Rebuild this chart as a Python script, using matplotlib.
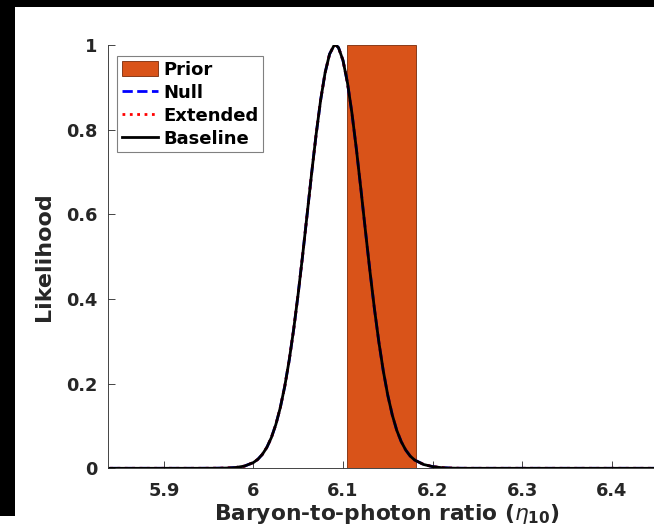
"""Likelihood of the baryon-to-photon ratio with the prior band."""

import matplotlib

matplotlib.use("Agg")
import matplotlib.pyplot as plt
from matplotlib.patches import Rectangle

plt.rcParams["font.family"] = ["DejaVu Sans"]
plt.rcParams["mathtext.fontset"] = "dejavusans"

# --- data ------------------------------------------------------------------
eta = [5.84, 5.94, 5.95, 5.96, 5.97, 5.98, 5.99, 6.00, 6.005, 6.01, 6.015,
       6.02, 6.025, 6.03, 6.035, 6.04, 6.045, 6.05, 6.055, 6.06, 6.065,
       6.07, 6.075, 6.08, 6.085, 6.09, 6.092, 6.095, 6.10, 6.105, 6.11,
       6.115, 6.12, 6.125, 6.13, 6.135, 6.14, 6.145, 6.15, 6.155, 6.16,
       6.165, 6.17, 6.175, 6.18, 6.19, 6.20, 6.21, 6.22, 6.23, 6.24, 6.46]
baseline = [0.0, 0.0, 0.0001, 0.0002, 0.0006, 0.0018, 0.0052, 0.0136,
            0.0214, 0.0330, 0.0495, 0.0724, 0.1032, 0.1433, 0.1940, 0.2561,
            0.3294, 0.4129, 0.5044, 0.6007, 0.6972, 0.7887, 0.8695, 0.9343,
            0.9785, 0.9988, 1.0, 0.9937, 0.9636, 0.9106, 0.8388, 0.7530,
            0.6589, 0.5619, 0.4671, 0.3784, 0.2987, 0.2299, 0.1724, 0.1261,
            0.0898, 0.0630, 0.0432, 0.0290, 0.0195, 0.0090, 0.0040, 0.0015,
            0.0005, 0.0001, 0.0, 0.0]
# Null and Extended sit exactly under the Baseline curve
null = list(baseline)
extended = list(baseline)

prior_lo = 6.104
prior_hi = 6.1815
prior_height = 1.0

x_ticks = [5.9, 6.0, 6.1, 6.2, 6.3, 6.4]
x_tick_labels = ["5.9", "6", "6.1", "6.2", "6.3", "6.4"]
y_ticks = [0, 0.2, 0.4, 0.6, 0.8, 1.0]
y_tick_labels = ["0", "0.2", "0.4", "0.6", "0.8", "1"]

TICK_COLOR = "#262626"
PRIOR_COLOR = "#D95319"

W, H = 654, 531
fig = plt.figure(figsize=(W / 100, H / 100), dpi=100)
fig.patch.set_facecolor("white")

# black strips along the top and left edges of the capture
fig.add_artist(Rectangle((0, 1 - 7 / H), 1, 7 / H, transform=fig.transFigure,
                         facecolor="black", edgecolor="none"))
fig.add_artist(Rectangle((0, (H - 516) / H), 15 / W, 516 / H,
                         transform=fig.transFigure,
                         facecolor="black", edgecolor="none"))

left, bottom, top = 107.5 / W, (H - 468.3) / H, (H - 45) / H
ax = fig.add_axes([left, bottom, 667 / W - left, top - bottom])

prior = ax.bar(prior_lo, prior_height, width=prior_hi - prior_lo,
               align="edge", color=PRIOR_COLOR, edgecolor="#7a2a08",
               linewidth=0.6, label="Prior", zorder=1)
(l_null,) = ax.plot(eta, null, color="blue", linestyle="--", linewidth=2,
                    label="Null", zorder=2)
(l_ext,) = ax.plot(eta, extended, color="red", linestyle=":", linewidth=2,
                   label="Extended", zorder=3)
(l_base,) = ax.plot(eta, baseline, color="black", linewidth=2,
                    label="Baseline", zorder=4)

ax.set_xlim(5.8371, 6.4617)
ax.set_ylim(0, 1)
ax.set_xticks(x_ticks)
ax.set_xticklabels(x_tick_labels)
ax.set_yticks(y_ticks)
ax.set_yticklabels(y_tick_labels)

for side in ("top", "right"):
    ax.spines[side].set_visible(False)
for side in ("left", "bottom"):
    ax.spines[side].set_color(TICK_COLOR)
    ax.spines[side].set_linewidth(0.6)
    ax.spines[side].set_zorder(0.5)

ax.tick_params(direction="in", length=5, width=0.6, color=TICK_COLOR,
               labelcolor=TICK_COLOR, labelsize=12.8)
ax.tick_params(axis="x", pad=10)
ax.tick_params(axis="y", pad=7)
for lbl in ax.get_xticklabels() + ax.get_yticklabels():
    lbl.set_fontweight("bold")

ax.set_xlabel(r"Baryon-to-photon ratio ($\eta_{\mathbf{10}}$)",
              fontsize=15.7, fontweight="bold", color=TICK_COLOR, labelpad=1)
ax.set_ylabel("Likelihood", fontsize=16, fontweight="bold",
              color=TICK_COLOR, labelpad=9)

leg = ax.legend([prior, l_null, l_ext, l_base],
                ["Prior", "Null", "Extended", "Baseline"],
                loc="upper left", bbox_to_anchor=(117.3 / W, (H - 56) / H),
                bbox_transform=fig.transFigure, borderaxespad=0,
                prop={"weight": "bold", "size": 13}, fancybox=False,
                edgecolor="#808080", framealpha=1, handlelength=2.0,
                handleheight=0.9, handletextpad=0.3, labelspacing=0.28,
                borderpad=0.25)
leg.get_frame().set_linewidth(0.8)

fig.savefig("out.png", dpi=100)
